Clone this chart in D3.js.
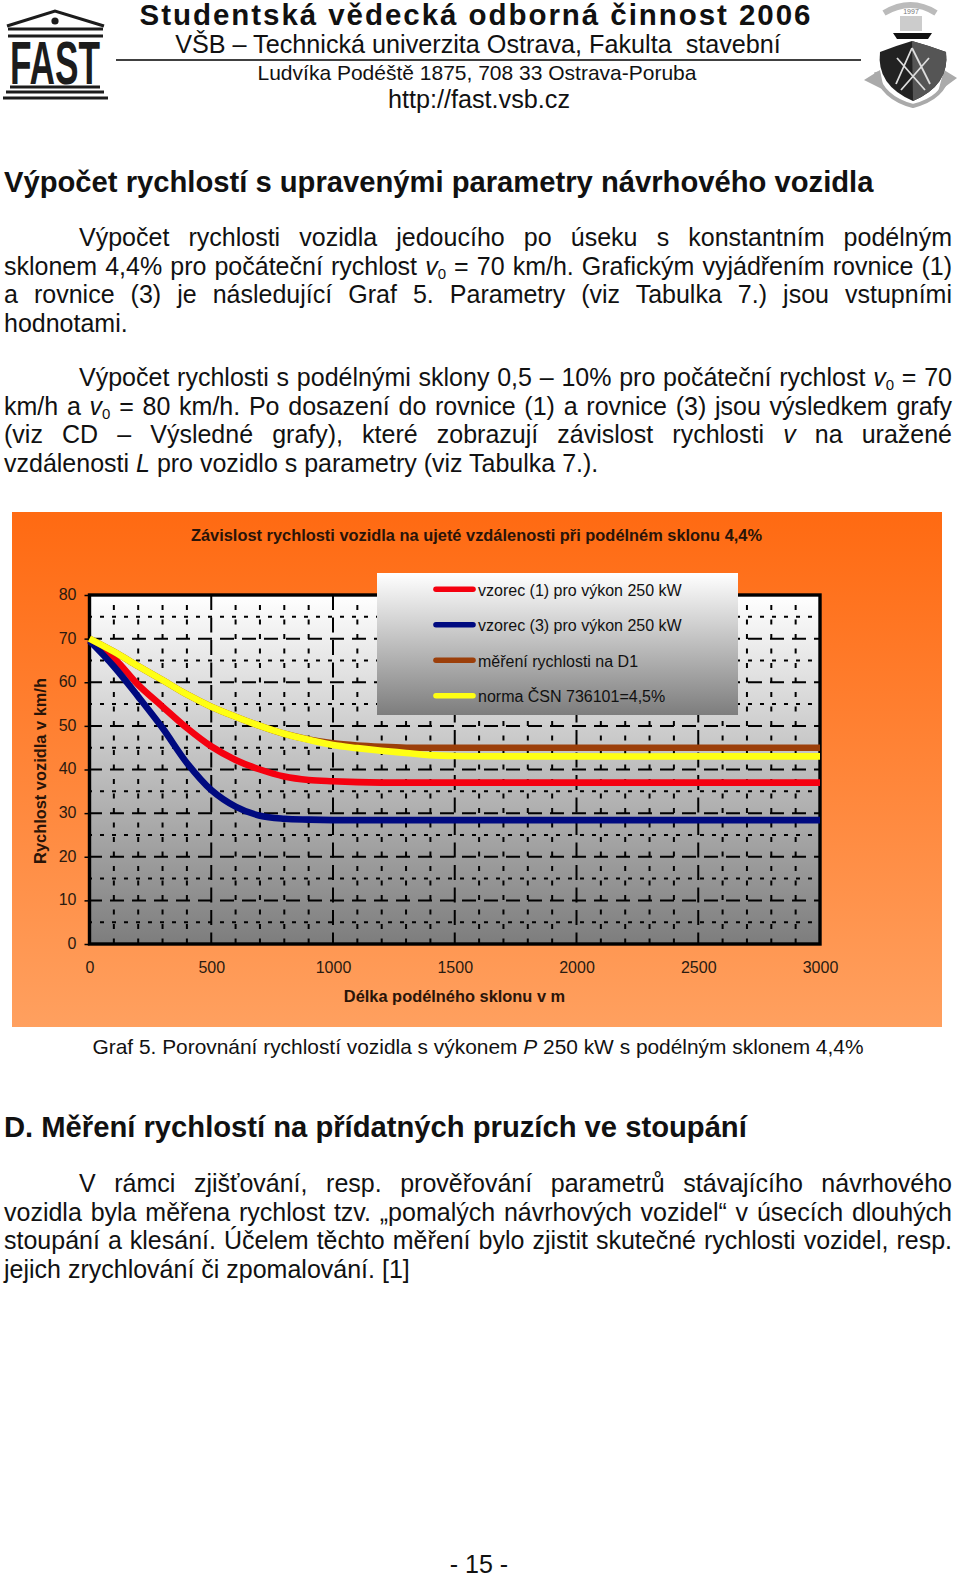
<!DOCTYPE html>
<html>
<head>
  <meta charset="utf-8">
  <title>Graf 5</title>
  <script src="https://cdn.jsdelivr.net/npm/d3@7"></script>
  <style>
    html, body { margin: 0; background: #fff; font-family: "Liberation Sans", Arial, sans-serif; color: #111; }
    #page { position: relative; width: 960px; height: 1575px; overflow: hidden; }
    .t { position: absolute; white-space: nowrap; line-height: 1; }
    .j { position: absolute; left: 4px; width: 948px; font-size: 25px; line-height: 29px; white-space: normal; text-align: justify; text-align-last: justify; }
    .j.last { text-align-last: left; }
    .j.ind { left: 79px; width: 873px; }
    sub { font-size: 15px; line-height: 0; vertical-align: -4px; }
    svg { position: absolute; left: 0; top: 0; }
    svg text { font-family: "Liberation Sans", Arial, sans-serif; }
    .axis path { display: none; }
    .axis line { stroke: #000; stroke-width: 1.5px; }
    .axis text { font-size: 16px; fill: #2a1a10; }
    .title { font-size: 16.4px; font-weight: bold; fill: #2a1408; }
  </style>
</head>
<body>
<div id="page"></div>
<script>
// chart values
var distance = [0, 100, 200, 300, 400, 500, 600, 700, 800, 900, 1000, 1100, 1200, 1300, 1400, 1500, 2000, 2500, 3000];
var vzorec1 = [69.5, 65.5, 59.4, 54.4, 49.5, 45.3, 42.2, 40, 38.4, 37.6, 37.3, 37.1, 37, 37, 37, 37, 37, 37, 37];
var vzorec3 = [69.5, 63.6, 56.7, 49.5, 41.5, 35.3, 31.5, 29.4, 28.7, 28.5, 28.4, 28.4, 28.4, 28.4, 28.4, 28.4, 28.4, 28.4, 28.4];
var mereni = [70, 67, 63.7, 60.5, 57.2, 54.4, 52.1, 50, 48.2, 46.9, 46, 45.5, 45.2, 45, 45, 45, 45, 45, 45];
var norma = [70, 67, 63.7, 60.5, 57.2, 54.4, 52.1, 50, 48.2, 46.8, 45.6, 44.9, 44.3, 43.8, 43.3, 43.1, 43, 43, 43];

var seriesNames = ["vzorec (1) pro výkon 250 kW", "vzorec (3) pro výkon 250 kW", "měření rychlosti na D1", "norma ČSN 736101=4,5%"];
var seriesColors = ["#f5000f", "#000a80", "#9c3f0a", "#ffff14"];
var xTicks = [0, 500, 1000, 1500, 2000, 2500, 3000];
var yTicks = [0, 10, 20, 30, 40, 50, 60, 70, 80];

var page = d3.select("#page");

// page text
function textAt(x, y, size, html, weight, spacing, center) {
  return page.append("div").attr("class", "t")
      .style("left", (center ? x - 450 : x) + "px").style("top", y + "px")
      .style("width", center ? "900px" : null)
      .style("text-align", center ? "center" : null)
      .style("font-size", size + "px")
      .style("font-weight", weight || "normal")
      .style("letter-spacing", (spacing || 0) + "px")
      .html(html);
}

function para(y, html, cls) {
  page.append("div").attr("class", "j " + (cls || "")).style("top", y + "px").html(html);
}

textAt(476, 0, 29.5, "Studentská vědecká odborná činnost 2006", "bold", 1.95, true);
textAt(478, 32, 25.2, "VŠB – Technická univerzita Ostrava, Fakulta&nbsp; stavební", null, 0, true);
textAt(477, 62, 21, "Ludvíka Podéště 1875, 708 33 Ostrava-Poruba", null, 0, true);
textAt(479, 87, 25.2, "http://fast.vsb.cz", null, 0, true);

textAt(4, 167.5, 29.2, "Výpočet rychlostí s upravenými parametry návrhového vozidla", "bold");

para(223, "Výpočet rychlosti vozidla jedoucího po úseku s konstantním podélným", "ind");
para(252, "sklonem 4,4% pro počáteční rychlost <i>v</i><sub>0</sub> = 70 km/h. Grafickým vyjádřením rovnice (1)");
para(280, "a rovnice (3) je následující Graf 5. Parametry (viz Tabulka 7.) jsou vstupními");
para(309, "hodnotami.", "last");
para(363, "Výpočet rychlosti s podélnými sklony 0,5 – 10% pro počáteční rychlost <i>v</i><sub>0</sub> = 70", "ind");
para(392, "km/h a <i>v</i><sub>0</sub> = 80 km/h. Po dosazení do rovnice (1) a rovnice (3) jsou výsledkem grafy");
para(420, "(viz CD – Výsledné grafy), které zobrazují závislost rychlosti <i>v</i> na uražené");
para(449, "vzdálenosti <i>L</i> pro vozidlo s parametry (viz Tabulka 7.).", "last");

textAt(478, 1037, 20.9, "Graf 5. Porovnání rychlostí vozidla s výkonem <i>P</i> 250 kW s podélným sklonem 4,4%", null, 0, true);
textAt(4, 1113, 29.2, "D. Měření rychlostí na přídatných pruzích ve stoupání", "bold");
para(1169, "V rámci zjišťování, resp. prověřování parametrů stávajícího návrhového", "ind");
para(1198, "vozidla byla měřena rychlost tzv. „pomalých návrhových vozidel“ v úsecích dlouhých");
para(1226, "stoupání a klesání. Účelem těchto měření bylo zjistit skutečné rychlosti vozidel, resp.");
para(1255, "jejich zrychlování či zpomalování. [1]", "last");
textAt(479, 1552, 25, "- 15 -", null, 0, true);

var svg = page.append("svg").attr("width", 960).attr("height", 1575);
var defs = svg.append("defs");

function vGradient(id, c0, c1) {
  var g = defs.append("linearGradient").attr("id", id).attr("x1", 0).attr("y1", 0).attr("x2", 0).attr("y2", 1);
  g.append("stop").attr("offset", 0).attr("stop-color", c0);
  g.append("stop").attr("offset", 1).attr("stop-color", c1);
}
vGradient("panelFill", "#ff6a12", "#ffa05f");
vGradient("plotFill", "#ffffff", "#7d7d7d");

// header rule
svg.append("line").attr("x1", 116).attr("x2", 861).attr("y1", 60).attr("y2", 60)
    .attr("stroke", "#000").attr("stroke-width", 1.5);

// FAST logo
var logo = svg.append("g").attr("fill", "#1c1c1c");
logo.append("path").attr("d", "M7 26 L55 11 L104 26").attr("fill", "none").attr("stroke", "#1c1c1c").attr("stroke-width", 3);
logo.append("circle").attr("cx", 55).attr("cy", 21).attr("r", 3.6);
logo.append("text").attr("x", 55).attr("y", 84).attr("text-anchor", "middle")
    .attr("font-size", 62).attr("font-weight", "bold")
    .attr("textLength", 90).attr("lengthAdjust", "spacingAndGlyphs").text("FAST");
var logoBars = [[8, 103, 29], [8, 103, 36], [10, 100, 87], [6, 104, 92], [3, 108, 98]];
logo.selectAll(".bar").data(logoBars).enter().append("line")
    .attr("x1", function(d) { return d[0]; }).attr("x2", function(d) { return d[1]; })
    .attr("y1", function(d) { return d[2]; }).attr("y2", function(d) { return d[2]; })
    .attr("stroke", "#1c1c1c").attr("stroke-width", 2.8);

// seal
var seal = svg.append("g");
seal.append("path").attr("d", "M864 80 L880 70 L884 90 Z M957 78 L944 70 L938 92 Z").attr("fill", "#aaa");
seal.append("path").attr("d", "M884 13 Q911 -3 936 13").attr("fill", "none").attr("stroke", "#bbb").attr("stroke-width", 6);
seal.append("text").attr("x", 911).attr("y", 14).attr("text-anchor", "middle").attr("font-size", 7).attr("fill", "#777").text("1997");
seal.append("rect").attr("x", 900).attr("y", 16).attr("width", 22).attr("height", 15).attr("fill", "#ccc");
seal.append("path").attr("d", "M893 33 H932 L928 39 H897 Z").attr("fill", "#111");
seal.append("path").attr("d", "M880 52 Q895 46 912 41 Q930 46 946 52 Q950 85 913 101 Q876 85 880 52 Z").attr("fill", "#222");
seal.append("path").attr("d", "M912 41 Q930 46 946 52 Q950 85 913 101 Z").attr("fill", "#555");
seal.append("path").attr("d", "M897 58 L925 90 M929 58 L901 90 M912 48 L896 84 M912 48 L930 84")
    .attr("fill", "none").attr("stroke", "#ddd").attr("stroke-width", 1.8);
seal.append("path").attr("d", "M876 72 Q882 98 913 106 Q944 98 948 74").attr("fill", "none").attr("stroke", "#aaa").attr("stroke-width", 4);

// chart panel
var panel = { left: 12, top: 512, width: 930, height: 515 };
var plot = { left: 89.5, right: 820, top: 595, bottom: 944 };

svg.append("rect").attr("x", panel.left).attr("y", panel.top)
    .attr("width", panel.width).attr("height", panel.height).attr("fill", "url(#panelFill)");
svg.append("rect").attr("x", plot.left).attr("y", plot.top)
    .attr("width", plot.right - plot.left).attr("height", plot.bottom - plot.top).attr("fill", "url(#plotFill)");

var x = d3.scaleLinear().domain([0, 3000]).range([plot.left, plot.right]);
var y = d3.scaleLinear().domain([0, 80]).range([plot.bottom, plot.top]);

// grid
var grid = svg.append("g").attr("stroke", "#000");
grid.selectAll(".gv").data(d3.range(100, 3000, 100)).enter().append("line")
    .attr("x1", x).attr("x2", x).attr("y1", plot.top).attr("y2", plot.bottom)
    .attr("stroke-width", 2)
    .attr("stroke-dasharray", function(d) { return d % 500 ? "5 9.5" : "15 7.5"; })
    .attr("stroke-dashoffset", function(d) { return d % 500 ? 4.5 : 0; });
grid.selectAll(".gh").data(d3.range(5, 80, 5)).enter().append("line")
    .attr("x1", plot.left).attr("x2", plot.right).attr("y1", y).attr("y2", y)
    .attr("stroke-width", 2)
    .attr("stroke-dasharray", function(d) { return d % 10 ? "4 8" : "14 8"; })
    .attr("stroke-dashoffset", 1.5);

// axes
svg.append("g").attr("class", "axis").attr("transform", "translate(" + plot.left + ",0)")
    .call(d3.axisLeft(y).tickValues(yTicks).tickSize(5).tickPadding(8).tickFormat(d3.format("d")))
    .selectAll("text").attr("dy", "0.28em");
svg.append("g").attr("class", "axis").attr("transform", "translate(0," + plot.bottom + ")")
    .call(d3.axisBottom(x).tickValues(xTicks).tickSize(0).tickPadding(18).tickFormat(d3.format("d")));

svg.append("rect").attr("x", plot.left).attr("y", plot.top)
    .attr("width", plot.right - plot.left).attr("height", plot.bottom - plot.top)
    .attr("fill", "none").attr("stroke", "#000").attr("stroke-width", 3.4);

// curves
var line = d3.line().x(function(d, i) { return x(distance[i]); }).y(function(d) { return y(d); }).curve(d3.curveCatmullRom.alpha(0.5));
var allSeries = [vzorec1, vzorec3, mereni, norma];

svg.selectAll(".curve").data(allSeries).enter().append("path")
    .attr("class", "curve").attr("fill", "none")
    .attr("stroke", function(d, i) { return seriesColors[i]; })
    .attr("stroke-width", 6.6)
    .attr("d", line);

// titles
svg.append("text").attr("class", "title").attr("x", 476.5).attr("y", 541).attr("text-anchor", "middle")
    .text("Závislost rychlosti vozidla na ujeté vzdálenosti při podélném sklonu 4,4%");
svg.append("text").attr("class", "title").attr("x", 454.5).attr("y", 1002).attr("text-anchor", "middle")
    .text("Délka podélného sklonu v m");
svg.append("text").attr("class", "title")
    .attr("transform", "translate(46,771) rotate(-90)").attr("text-anchor", "middle")
    .text("Rychlost vozidla v km/h");

// legend
var legend = svg.append("g");
legend.append("rect").attr("x", 377).attr("y", 573).attr("width", 361).attr("height", 142).attr("fill", "url(#plotFill)");
var row = d3.scaleBand().domain(d3.range(seriesNames.length)).range([573, 715]);
var item = legend.selectAll(".item").data(seriesNames).enter().append("g")
    .attr("transform", function(d, i) { return "translate(0," + (row(i) + row.bandwidth() / 2) + ")"; });
item.append("line").attr("x1", 436).attr("x2", 473).attr("y1", -1.5).attr("y2", -1.5)
    .attr("stroke-width", 5.6).attr("stroke-linecap", "round")
    .attr("stroke", function(d, i) { return seriesColors[i]; });
item.append("text").attr("x", 478).attr("y", 5).attr("font-size", 16).attr("fill", "#111")
    .text(function(d) { return d; });
</script>
</body>
</html>
